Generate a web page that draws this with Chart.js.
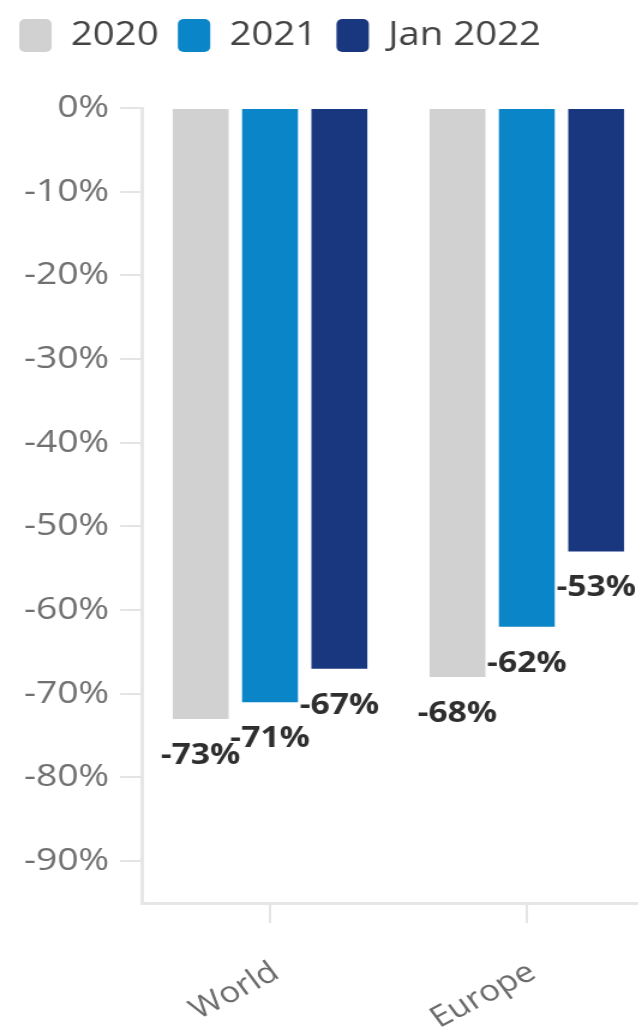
<!DOCTYPE html>
<html>
<head>
<meta charset="utf-8">
<script src="https://cdn.jsdelivr.net/npm/chart.js@4"></script>
<style>
  html, body { margin: 0; padding: 0; background: #fff; overflow: hidden; }
  #wrap { width: 638px; height: 1028px; overflow: hidden; }
  /* the source picture is stretched sideways, so the chart is drawn narrow and scaled */
  #box { width: 550px; height: 1028px; transform: scaleX(1.2); transform-origin: 0 0; }
</style>
</head>
<body>
<div id="wrap"><div id="box"><canvas id="chart"></canvas></div></div>
<script>
const categories = ["World", "Europe"];
const seriesNames = ["2020", "2021", "Jan 2022"];
const values2020 = [-73, -68];
const values2021 = [-71, -62];
const valuesJan2022 = [-67, -53];
const yTicks = [0, -10, -20, -30, -40, -50, -60, -70, -80, -90];

const colors = ["#d1d1d1", "#0a85c8", "#18377f"];
const seriesValues = [values2020, values2021, valuesJan2022];

// value labels under the end of each bar
const valueLabels = {
    id: "valueLabels",
    afterDatasetsDraw(chart) {
        const ctx = chart.ctx;
        ctx.save();
        ctx.font = "bold 28px 'Open Sans'";
        ctx.fillStyle = "#2e2e2e";
        ctx.textAlign = "center";
        ctx.textBaseline = "middle";
        chart.data.datasets.forEach((ds, i) => {
            chart.getDatasetMeta(i).data.forEach((bar, j) => {
                ctx.fillText(ds.data[j] + "%", bar.x, bar.y + 37);
            });
        });
        ctx.restore();
    }
};

// leave room under the legend
const legendSpace = {
    id: "legendSpace",
    beforeInit(chart) {
        const fit = chart.legend.fit;
        chart.legend.fit = function () {
            fit.bind(chart.legend)();
            this.height = 105;
        };
    }
};

new Chart(document.getElementById("chart"), {
    type: "bar",
    data: {
        labels: categories,
        datasets: seriesNames.map((name, i) => ({
            label: name,
            data: seriesValues[i],
            backgroundColor: colors[i],
            borderWidth: 0,
            categoryPercentage: 0.81,
            barPercentage: 0.806
        }))
    },
    options: {
        responsive: true,
        maintainAspectRatio: false,
        animation: false,
        layout: { padding: { left: 0, right: 4, top: 3, bottom: 0 } },
        plugins: {
            tooltip: { enabled: false },
            legend: {
                display: true,
                position: "top",
                align: "start",
                labels: {
                    boxWidth: 27,
                    boxHeight: 33,
                    padding: 16,
                    useBorderRadius: true,
                    borderRadius: 5,
                    color: "#444",
                    font: { family: "'Open Sans'", size: 32 }
                }
            }
        },
        scales: {
            x: {
                grid: {
                    display: true,
                    drawOnChartArea: false,
                    drawTicks: true,
                    tickLength: 20,
                    offset: false,
                    color: "#e4e4e4",
                    lineWidth: 2
                },
                border: { display: true, color: "#e6e6e6", width: 3 },
                ticks: {
                    color: "#6b6b6b",
                    font: { family: "'Open Sans'", size: 29 },
                    minRotation: 32,
                    maxRotation: 32,
                    padding: 32,
                    labelOffset: 5
                },
                afterFit(scale) { scale.height = 125; }
            },
            y: {
                min: -95,
                max: 0,
                grid: {
                    display: true,
                    drawOnChartArea: false,
                    drawTicks: true,
                    tickLength: 18,
                    color: "#e4e4e4",
                    lineWidth: 2
                },
                border: { display: true, color: "#e6e6e6", width: 3 },
                ticks: {
                    color: "#707070",
                    font: { family: "'Open Sans'", size: 31 },
                    padding: 9,
                    callback: v => v + "%"
                },
                afterBuildTicks(scale) {
                    scale.ticks = yTicks.map(v => ({ value: v }));
                },
                afterFit(scale) { scale.width = 118; }
            }
        }
    },
    plugins: [legendSpace, valueLabels]
});
</script>
</body>
</html>
